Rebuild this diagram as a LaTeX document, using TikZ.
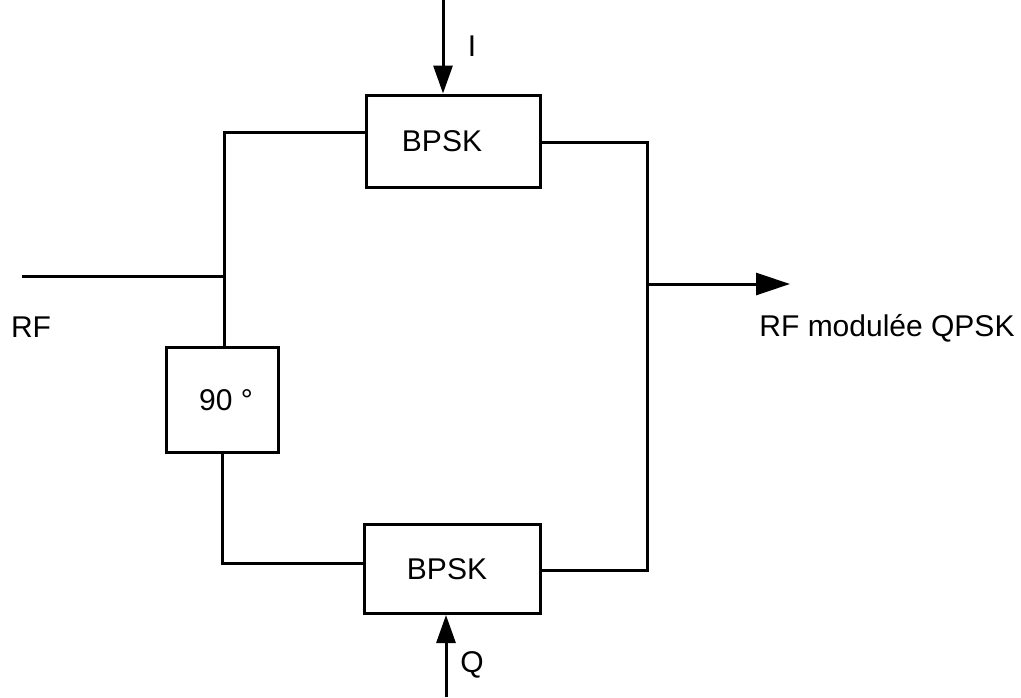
\documentclass[tikz,border=0pt]{standalone}
\usepackage{fontspec}
\setmainfont{Liberation Sans}
\usetikzlibrary{arrows.meta}
\begin{document}
\begin{tikzpicture}[x=1pt,y=-1pt,
  blockbox/.style={draw,line width=3pt,rectangle,inner sep=0pt},
  wire/.style={line width=3pt},
  lbl/.style={inner sep=0pt,font=\fontsize{30}{36}\selectfont},
  inarrow/.style={wire,-{Triangle[length=28pt,width=19pt]}},
  outarrow/.style={wire,-{Triangle[length=34pt,width=22pt]}}]
\useasboundingbox (0,0) rectangle (1021,697);
\node[blockbox,minimum width=174pt,minimum height=92pt,lbl] (top) at (453,141) {\hspace*{-22pt}BPSK};
\node[blockbox,minimum width=176pt,minimum height=89pt,lbl] (bot) at (452,569) {\hspace*{-10pt}BPSK};
\node[blockbox,minimum width=112pt,minimum height=105pt,lbl] (phase) at (222,400) {\hspace*{8pt}90 °};
\coordinate (tl) at (224,132);
\coordinate (rfin) at (22,276);
\coordinate (bl) at (222,563);
\coordinate (tr) at (647,142);
\coordinate (br) at (647,570);
\coordinate (out) at (790,284);
\coordinate (iin) at (443,0);
\coordinate (qin) at (446,697);
\draw[wire] (tl -| top.west) -- (tl) -- (tl |- phase.north);
\draw[wire] (rfin) -- (rfin -| tl);
\draw[wire] (bl |- phase.south) -- (bl) -- (bl -| bot.west);
\draw[wire] (tr -| top.east) -- (tr) -- (br) -- (br -| bot.east);
\draw[outarrow] (out -| tr) -- (out);
\draw[inarrow] (iin) -- (iin |- top.north);
\draw[inarrow] (qin) -- (qin |- bot.south);
\node[lbl] (ilab) at (472,46) {I};
\node[lbl] (qlab) at (472,665) {Q};
\node[lbl] (rflab) at (31,327) {RF};
\node[lbl] (outlab) at (887,328) {RF modulée QPSK};
\end{tikzpicture}
\end{document}
